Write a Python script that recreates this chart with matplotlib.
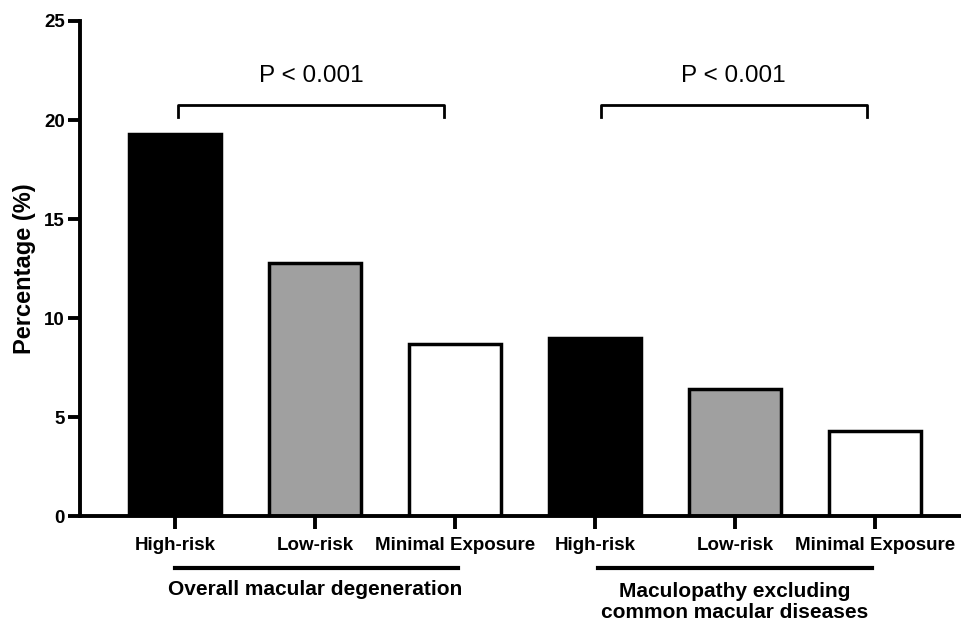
import matplotlib.pyplot as plt

# values (percent)
labels = ["High-risk", "Low-risk", "Minimal Exposure"] * 2
values = [19.3, 12.8, 8.7, 9.0, 6.4, 4.3]
fills = ["black", "#a0a0a0", "white"] * 2
groups = ["Overall macular degeneration", "Maculopathy excluding\ncommon macular diseases"]
p_text = "P < 0.001"

plt.rcParams['font.family'] = ['Liberation Sans', 'DejaVu Sans']

fig = plt.figure(figsize=(9.61, 6.23), dpi=100)
ax = fig.add_axes([0.0832, 0.1717, 0.9168, 0.7946])

x = list(range(len(values)))
ax.bar(x, values, width=0.655, color=fills, edgecolor="black", linewidth=2.5, zorder=2)

ax.set_xlim(-0.679, 5.614)
ax.set_ylim(0, 25)
ax.set_yticks([0, 5, 10, 15, 20, 25])
ax.set_xticks(x)
ax.set_xticklabels(labels, fontsize=13.5, fontweight="bold")
for t in ax.get_yticklabels():
    t.set_fontsize(13.5)
    t.set_fontweight("bold")
ax.set_ylabel("Percentage (%)", fontsize=17, fontweight="bold", labelpad=6)

for s in ["top", "right"]:
    ax.spines[s].set_visible(False)
for s in ["left", "bottom"]:
    ax.spines[s].set_linewidth(2.8)
ax.tick_params(axis="both", direction="out", length=9, width=2.8)
ax.tick_params(axis="y", pad=2)
ax.tick_params(axis="x", pad=6)

# significance brackets
for x0, x1 in [(0.02, 1.92), (3.04, 4.94)]:
    ax.plot([x0, x0, x1, x1], [20.15, 20.76, 20.76, 20.15], color="black", lw=2, clip_on=False)
    ax.text((x0 + x1) / 2, 22.2, p_text, ha="center", va="center", fontsize=17.5)

# group lines under the axis
tr = ax.get_xaxis_transform()
ax.plot([0, 2.02], [-0.105, -0.105], color="black", lw=3, transform=tr, clip_on=False)
ax.plot([3.02, 4.98], [-0.105, -0.105], color="black", lw=3, transform=tr, clip_on=False)
ax.text(1.0, -0.149, groups[0], ha="center", va="center", fontsize=15,
        fontweight="bold", transform=tr)
ax.text(4.0, -0.173, groups[1], ha="center", va="center", fontsize=15,
        fontweight="bold", transform=tr, linespacing=1.12)

fig.savefig("out.png", dpi=100)
